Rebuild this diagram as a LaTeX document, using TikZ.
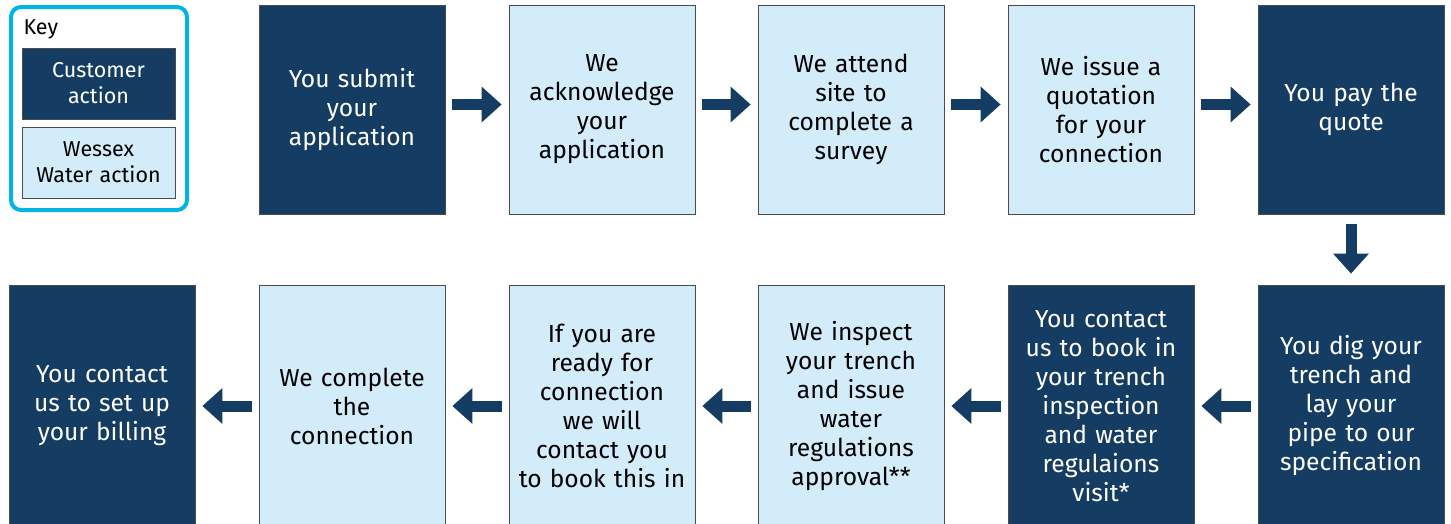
\documentclass[tikz,border=0pt]{standalone}
\usepackage{fontspec}
\setmainfont{Fira Sans}
\usetikzlibrary{arrows.meta}
\definecolor{navy}{RGB}{21,60,99}
\definecolor{paleblue}{RGB}{210,236,250}
\definecolor{keycyan}{RGB}{0,180,230}
\tikzset{
  stage/.style={draw=black!70, line width=0.9pt, minimum width=186pt, text width=180pt, align=center, inner sep=0pt, font=\fontsize{24.6}{29}\selectfont},
  custbox/.style={stage, fill=navy, text=white},
  wwbox/.style={stage, fill=paleblue, text=black},
  keybox/.style={minimum width=153pt, minimum height=71pt, text width=150pt, font=\fontsize{21.5}{26}\selectfont},
  flow/.style={draw=navy, line width=11pt, -{Triangle[width=36pt, length=20pt, line width=0pt]}, shorten <=7pt, shorten >=7pt}
}

\begin{document}
\begin{tikzpicture}[x=1pt, y=-1pt]
  \useasboundingbox (0,0) rectangle (1451,523);
  \draw [keycyan, line width=4pt, rounded corners=10pt] (11,7) rectangle (187,210);
  \node [anchor=west, font=\fontsize{21.5}{26}\selectfont] (keytitle) at (20,29) {Key};
  \node [custbox, keybox] (keycust) at (98.5,83.5) {Customer\\action};
  \node [wwbox, keybox] (keyww) at (98.5,162.5) {Wessex\\Water action};

  \node [custbox, minimum height=209pt] (s1) at (352,109.5) {You submit\\your\\application};
  \node [wwbox, minimum height=209pt] (s2) at (602,109.5) {We\\acknowledge\\your\\application};
  \node [wwbox, minimum height=209pt] (s3) at (851,109.5) {We attend\\site to\\complete a\\survey};
  \node [wwbox, minimum height=209pt] (s4) at (1101,109.5) {We issue a\\quotation\\for your\\connection};
  \node [custbox, minimum height=209pt] (s5) at (1351,109.5) {You pay the\\quote};

  \node [custbox, minimum height=242pt] (s6) at (1351,406) {You dig your\\trench and\\lay your\\pipe to our\\specification};
  \node [custbox, minimum height=242pt] (s7) at (1101,406) {You contact\\us to book in\\your trench\\inspection\\and water\\regulaions\\visit*};
  \node [wwbox, minimum height=242pt] (s8) at (851,406) {We inspect\\your trench\\and issue\\water\\regulations\\approval**};
  \node [wwbox, minimum height=242pt] (s9) at (602,406) {If you are\\ready for\\connection\\we will\\contact you\\to book this in};
  \node [wwbox, minimum height=242pt] (s10) at (352,406) {We complete\\the\\connection};
  \node [custbox, minimum height=242pt] (s11) at (102,406) {You contact\\us to set up\\your billing};

  \draw [flow] ([yshift=5pt]s1.east) -- ([yshift=5pt]s2.west);
  \draw [flow] ([yshift=5pt]s2.east) -- ([yshift=5pt]s3.west);
  \draw [flow] ([yshift=5pt]s3.east) -- ([yshift=5pt]s4.west);
  \draw [flow] ([yshift=5pt]s4.east) -- ([yshift=5pt]s5.west);
  \draw [flow, shorten <=10pt, shorten >=11pt] (s5) -- (s6);
  \draw [flow] (s6) -- (s7);
  \draw [flow] (s7) -- (s8);
  \draw [flow] (s8) -- (s9);
  \draw [flow] (s9) -- (s10);
  \draw [flow] (s10) -- (s11);
\end{tikzpicture}
\end{document}
